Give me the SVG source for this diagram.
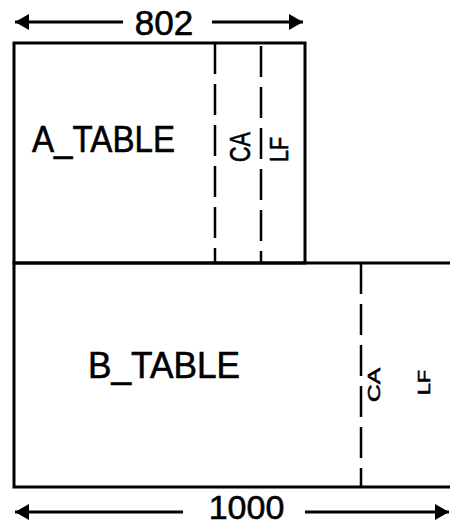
<svg xmlns="http://www.w3.org/2000/svg" width="450" height="527" viewBox="0 0 450 527">
<style>
.box{fill:none;stroke:#000;stroke-width:3}
.dash{stroke:#000;stroke-width:2.5;stroke-dasharray:31 10;fill:none}
.dim{stroke:#000;stroke-width:3;fill:none}
.t{font-family:"Liberation Sans",Arial,sans-serif;fill:#000;stroke:#000;stroke-width:0.6}
</style>
<defs>
<marker id="ah" viewBox="0 0 14 16" refX="14" refY="8" markerWidth="14" markerHeight="16" markerUnits="userSpaceOnUse" orient="auto-start-reverse">
<path d="M0,0 L14,8 L0,16 Z" fill="#000"/>
</marker>
</defs>
<rect width="450" height="527" fill="#fff"/>
<g id="a_table">
<rect class="box" x="14" y="43" width="291" height="220"/>
<line class="dash" x1="215" y1="43" x2="215" y2="263"/>
<line class="dash" x1="261" y1="46" x2="261" y2="263"/>
<text class="t" x="32" y="152" font-size="36" textLength="143" lengthAdjust="spacingAndGlyphs">A_TABLE</text>
<text class="t" transform="translate(250,162) rotate(-90)" font-size="29" textLength="30" lengthAdjust="spacingAndGlyphs">CA</text>
<text class="t" transform="translate(288,162) rotate(-90)" font-size="25" textLength="25" lengthAdjust="spacingAndGlyphs">LF</text>
</g>
<g id="b_table">
<rect class="box" x="14" y="263" width="440" height="224"/>
<line class="dash" x1="361" y1="263" x2="361" y2="487"/>
<text class="t" x="88" y="378" font-size="36" textLength="152" lengthAdjust="spacingAndGlyphs">B_TABLE</text>
<text class="t" transform="translate(380,402) rotate(-90)" font-size="16.5" textLength="34" lengthAdjust="spacingAndGlyphs">CA</text>
<text class="t" transform="translate(430,395) rotate(-90)" font-size="16.5" textLength="25" lengthAdjust="spacingAndGlyphs">LF</text>
</g>
<g id="connectors">
<line class="dim" x1="15" y1="22" x2="123" y2="22" marker-start="url(#ah)"/>
<line class="dim" x1="212" y1="22" x2="303" y2="22" marker-end="url(#ah)"/>
<line class="dim" x1="15" y1="512" x2="183" y2="512" marker-start="url(#ah)"/>
<line class="dim" x1="305" y1="512" x2="449" y2="512" marker-end="url(#ah)"/>
</g>
<g id="dims">
<text class="t" x="164" y="35" font-size="35" text-anchor="middle">802</text>
<text class="t" x="246.5" y="519" font-size="34" text-anchor="middle">1000</text>
</g>
</svg>
